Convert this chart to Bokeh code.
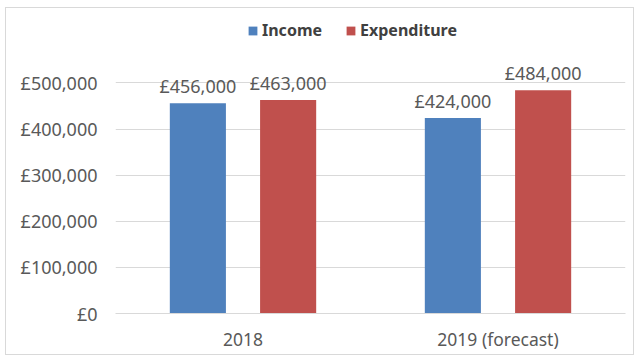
from bokeh.plotting import figure
from bokeh.models import ColumnDataSource, FactorRange, Range1d, FixedTicker, Legend, LegendItem
from bokeh.transform import dodge
from bokeh.core.properties import value
from bokeh.embed import file_html
from bokeh.resources import INLINE

years = ["2018", "2019 (forecast)"]
income = [456000, 424000]
expenditure = [463000, 484000]
series = ["Income", "Expenditure"]
colors = ["#4f81bd", "#c0504d"]
y_ticks = [0, 100000, 200000, 300000, 400000, 500000]
y_tick_labels = ["£0", "£100,000", "£200,000", "£300,000", "£400,000", "£500,000"]

FONT = "Noto Sans"
TXT = "#595959"

src = ColumnDataSource(dict(
    year=years,
    income=income,
    expenditure=expenditure,
    income_lbl=[f"£{v:,}" for v in income],
    expenditure_lbl=[f"£{v:,}" for v in expenditure],
))

p = figure(
    x_range=FactorRange(factors=years, range_padding=0),
    y_range=Range1d(0, 642000),
    width=627, height=346,
    margin=(7, 0, 0, 5),
    styles={"border": "1px solid #d9d9d9", "box-sizing": "content-box"},
    output_backend="svg", toolbar_location=None,
    min_border_left=109, min_border_right=10, min_border_top=9, min_border_bottom=43,
)
p.outline_line_color = None
p.background_fill_color = "white"
p.border_fill_color = "white"

offs = [-0.177, 0.177]
cols = ["income", "expenditure"]
renderers = []
for col, off, c in zip(cols, offs, colors):
    r = p.vbar(x=dodge("year", off, range=p.x_range), top=col, width=0.22,
               source=src, fill_color=c, line_color=None)
    renderers.append(r)
    p.text(x=dodge("year", off, range=p.x_range), y=col, text=col + "_lbl", source=src,
           text_align="center", text_baseline="bottom", y_offset=-5,
           text_font=value(FONT), text_font_size="18px", text_color=TXT)

legend = Legend(items=[LegendItem(label=s, renderers=[r]) for s, r in zip(series, renderers)],
                orientation="horizontal", location=(132, 272),
                glyph_width=11, glyph_height=11, label_standoff=4, spacing=23,
                label_text_font=FONT, label_text_font_size="16px", label_text_font_style="bold",
                label_text_color="#404040", border_line_color=None, background_fill_color=None,
                background_fill_alpha=0, padding=0, margin=0)
p.add_layout(legend)

p.xgrid.grid_line_color = None
p.ygrid.grid_line_color = "#d9d9d9"
p.ygrid.ticker = FixedTicker(ticks=y_ticks)

p.yaxis.ticker = FixedTicker(ticks=y_ticks)
p.yaxis.major_label_overrides = dict(zip(y_ticks, y_tick_labels))
p.yaxis.axis_line_color = None
p.yaxis.major_tick_line_color = None
p.yaxis.minor_tick_line_color = None
p.yaxis.major_tick_out = 0
p.yaxis.major_label_standoff = 18
p.yaxis.major_label_text_font = FONT
p.yaxis.major_label_text_font_size = "18px"
p.yaxis.major_label_text_color = TXT

p.xaxis.axis_line_color = "#d9d9d9"
p.xaxis.major_tick_line_color = None
p.xaxis.major_tick_out = 0
p.xaxis.major_label_standoff = 13
p.xaxis.major_label_text_font = FONT
p.xaxis.major_label_text_font_size = "17.5px"
p.xaxis.major_label_text_color = TXT

open("out.html", "w").write(file_html(p, INLINE))
